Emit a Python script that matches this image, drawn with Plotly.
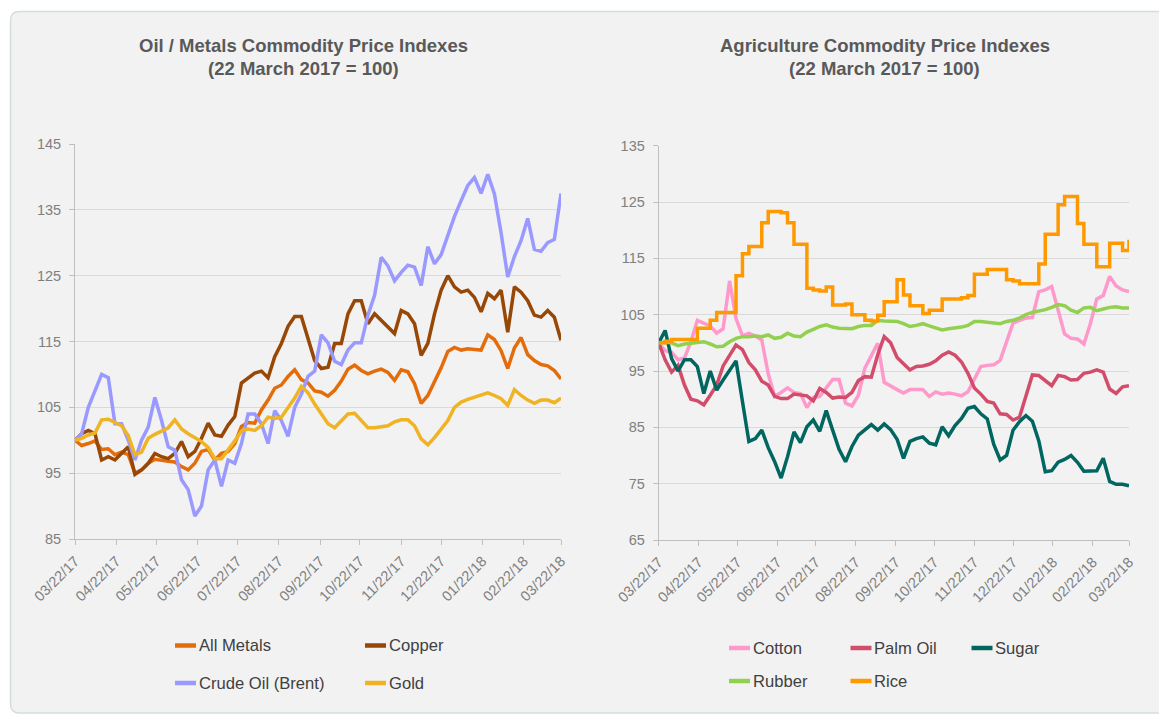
import pandas as pd
import plotly.graph_objects as go

W, H = 1159, 716

# Observation dates: every 5 days, 22 Mar 2017 .. 22 Mar 2018
dates = pd.date_range("2017-03-22", periods=74, freq="5D")
# Monthly ticks on the 22nd
month_ticks = pd.date_range("2017-03-01", "2018-03-01", freq="MS") + pd.Timedelta(days=21)

# ---- Oil / Metals indexes (22 March 2017 = 100) ----
all_metals = [100, 99.2, 99.5, 99.9, 98.6, 98.7, 97.8, 98.2, 97.8, 95.0,
              95.5, 96.5, 97.1, 96.9, 96.8, 96.7, 96.0, 95.5, 96.5, 98.3,
              98.6, 97.0, 98.0, 98.3, 99.5, 102.1, 102.7, 102.6, 104.6, 106.1,
              107.9, 108.4, 109.7, 110.7, 109.2, 108.7, 107.5, 107.3, 106.7, 107.6,
              109.0, 110.8, 111.4, 110.6, 110.1, 110.5, 110.8, 110.3, 109.1, 110.7,
              110.4, 108.6, 105.6, 106.8, 108.8, 111.0, 113.5, 114.1, 113.7, 113.9,
              113.8, 113.7, 116.0, 115.3, 113.6, 110.9, 114.0, 115.6, 113.0, 112.1,
              111.5, 111.3, 110.6, 109.3]
copper = [100, 101.0, 101.5, 101.0, 97.0, 97.5, 97.0, 98.0, 99.0, 94.8,
          95.5, 96.5, 98.0, 97.5, 97.2, 98.0, 99.8, 97.5, 98.3, 100.3,
          102.6, 100.8, 100.6, 102.3, 103.6, 108.7, 109.5, 110.2, 110.5, 109.5,
          112.7, 114.7, 117.3, 118.8, 118.8, 115.3, 112.1, 110.9, 111.1, 114.7,
          114.7, 119.2, 121.2, 121.2, 117.7, 119.2, 118.2, 117.2, 116.2, 119.7,
          119.2, 117.7, 112.9, 114.7, 119.2, 122.8, 125.0, 123.3, 122.5, 122.8,
          121.7, 119.5, 122.3, 121.5, 122.8, 116.4, 123.3, 122.5, 121.2, 119.0,
          118.7, 119.7, 118.7, 115.2]
crude_oil = [100, 101.0, 105.0, 107.5, 110.0, 109.5, 102.5, 102.5, 100.0, 97.0,
             100.0, 102.0, 106.5, 103.0, 99.0, 98.5, 94.0, 92.5, 88.5, 90.0,
             95.5, 97.0, 93.0, 97.0, 96.5, 99.5, 104.0, 104.0, 102.5, 99.5,
             104.5, 103.0, 100.6, 105.0, 107.0, 109.7, 110.5, 116.0, 114.8, 112.0,
             111.5, 113.7, 114.8, 114.8, 119.0, 122.0, 127.8, 126.5, 124.2, 125.5,
             126.6, 126.3, 123.5, 129.4, 126.8, 128.2, 131.2, 134.0, 136.4, 138.7,
             139.9, 137.5, 140.4, 137.4, 131.5, 124.8, 127.9, 130.3, 133.7, 129.0,
             128.7, 130.0, 130.5, 137.5]
gold = [100, 100.3, 100.8, 101.1, 103.1, 103.2, 102.7, 102.2, 100.7, 97.8,
        98.2, 100.3, 100.9, 101.4, 101.9, 103.1, 101.7, 101.0, 100.4, 99.8,
        98.9, 97.2, 97.2, 98.5, 99.9, 101.4, 101.7, 101.5, 102.2, 103.5,
        103.3, 103.5, 104.9, 106.4, 108.2, 107.2, 105.5, 104.0, 102.5, 101.9,
        102.9, 104.0, 104.1, 103.0, 101.9, 101.9, 102.1, 102.2, 102.8, 103.1,
        103.1, 102.2, 100.2, 99.3, 100.4, 101.7, 103.0, 105.0, 105.8, 106.2,
        106.5, 106.9, 107.2, 106.8, 106.3, 105.3, 107.7, 106.8, 106.1, 105.6,
        106.1, 106.1, 105.7, 106.4]

# ---- Agriculture indexes (22 March 2017 = 100) ----
cotton = [100, 98.6, 98.3, 97.0, 97.3, 100.2, 104.0, 103.5, 103.0, 101.7,
          102.5, 111.0, 104.3, 101.3, 101.7, 101.2, 100.5, 94.5, 90.5, 91.2,
          92.0, 91.2, 91.0, 88.5, 90.3, 90.5, 92.1, 93.5, 93.5, 89.3,
          88.8, 90.7, 95.5, 97.8, 99.9, 93.0, 92.3, 91.7, 91.1, 91.7,
          91.7, 91.7, 90.5, 91.3, 90.9, 91.1, 90.9, 90.6, 91.3, 93.7,
          95.8, 96.0, 96.1, 96.9, 100.0, 103.5, 104.0, 104.4, 104.5, 109.1,
          109.4, 110.0, 105.8, 101.6, 100.8, 100.7, 99.8, 103.4, 107.8, 108.4,
          111.8, 110.1, 109.4, 109.1]
palm_oil = [100, 97.0, 94.8, 96.0, 92.5, 90.0, 89.7, 89.0, 90.7, 92.5,
            95.9, 97.9, 99.6, 98.8, 96.5, 95.2, 93.2, 92.5, 90.5, 90.1,
            90.1, 90.9, 90.7, 90.6, 89.7, 91.9, 91.2, 90.2, 90.4, 90.3,
            91.2, 93.3, 94.0, 93.9, 97.9, 101.1, 100.0, 97.4, 96.3, 95.2,
            95.8, 95.9, 96.2, 96.8, 97.8, 98.4, 97.8, 96.6, 94.6, 92.0,
            90.9, 89.6, 89.3, 87.4, 87.3, 86.3, 86.8, 90.4, 94.3, 94.2,
            93.3, 92.4, 94.2, 94.0, 93.4, 93.5, 94.6, 94.8, 95.2, 94.8,
            91.8, 91.0, 92.2, 92.4]
sugar = [100, 102.2, 97.2, 95.0, 97.0, 97.0, 95.8, 91.0, 95.0, 91.6,
         93.4, 95.2, 96.8, 89.6, 82.5, 83.0, 84.5, 81.4, 78.9, 76.0,
         79.8, 84.2, 82.3, 85.1, 86.3, 84.3, 88.0, 84.5, 81.1, 78.9,
         81.6, 83.6, 84.5, 85.5, 84.5, 85.6, 84.6, 82.9, 79.5, 82.5,
         83.0, 83.3, 82.2, 81.9, 85.1, 83.5, 85.3, 86.6, 88.4, 88.7,
         87.4, 86.5, 82.0, 79.2, 80.0, 84.5, 86.0, 87.1, 86.1, 82.6,
         77.1, 77.3, 78.8, 79.3, 80.0, 78.8, 77.2, 77.2, 77.3, 79.5,
         75.4, 74.9, 74.9, 74.6]
rubber = [100, 100.1, 100.0, 99.5, 99.8, 99.9, 100.1, 100.2, 99.8, 99.3,
          99.4, 100.2, 100.8, 101.1, 101.1, 101.2, 101.1, 101.4, 100.8, 101.0,
          101.7, 101.2, 101.1, 101.9, 102.4, 102.9, 103.2, 102.8, 102.6, 102.5,
          102.5, 102.9, 103.1, 103.1, 104.0, 103.9, 103.8, 103.8, 103.4, 102.9,
          103.1, 103.4, 103.0, 102.6, 102.3, 102.5, 102.6, 102.8, 103.1, 103.8,
          103.8, 103.7, 103.5, 103.4, 103.8, 104.0, 104.4, 105.0, 105.4, 105.6,
          105.9, 106.3, 106.8, 106.6, 105.8, 105.4, 106.2, 106.3, 105.7, 106.0,
          106.3, 106.4, 106.2, 106.2]
rice = [100, 100.3, 100.6, 100.6, 100.6, 100.6, 102.6, 102.6, 104.0, 105.4,
        105.4, 105.4, 111.9, 115.8, 117.1, 117.1, 121.3, 123.3, 123.3, 123.1,
        121.3, 117.5, 117.5, 109.7, 109.4, 109.2, 109.9, 106.7, 106.7, 106.9,
        105.0, 105.0, 104.0, 103.9, 104.9, 107.3, 107.3, 111.2, 108.5, 106.6,
        106.6, 105.2, 105.8, 105.8, 107.8, 107.8, 107.8, 108.0, 108.4, 112.2,
        112.2, 113.0, 113.0, 113.0, 111.2, 111.0, 110.5, 110.5, 110.5, 114.0,
        119.3, 119.3, 124.5, 126.0, 126.0, 121.2, 117.5, 117.5, 113.5, 113.5,
        117.7, 117.7, 116.4, 118.3]

left_series = [
    ("All Metals", all_metals, "#E46C0A"),
    ("Copper", copper, "#974706"),
    ("Crude Oil (Brent)", crude_oil, "#9999FF"),
    ("Gold", gold, "#F0B323"),
]
right_series = [
    ("Cotton", cotton, "#FF99CC"),
    ("Palm Oil", palm_oil, "#D24D6C"),
    ("Sugar", sugar, "#00665F"),
    ("Rubber", rubber, "#92D050"),
    ("Rice", rice, "#FF9900"),
]

FONT = "Liberation Sans, Arial, sans-serif"
GRID = "#d9d9d9"
AXIS = "#bfbfbf"
TICKTXT = "#7f7f7f"


def px_x(v):
    return v / W


def px_y(v):
    return 1 - v / H


fig = go.Figure()

for name, vals, col in left_series:
    fig.add_trace(go.Scatter(x=dates, y=vals, name=name, mode="lines",
                             line=dict(color=col, width=3.5),
                             xaxis="x", yaxis="y", showlegend=False))
for name, vals, col in right_series:
    fig.add_trace(go.Scatter(x=dates, y=vals, name=name, mode="lines",
                             line=dict(color=col, width=3.5,
                                       shape="hv" if name == "Rice" else "linear"),
                             xaxis="x2", yaxis="y2", showlegend=False))

xcommon = dict(type="date", range=[dates[0], dates[-1]], tickvals=month_ticks,
               tickformat="%m/%d/%y", tickangle=-45, ticks="outside", ticklen=5,
               tickcolor=AXIS, showline=True, linecolor=AXIS, linewidth=1,
               showgrid=False, zeroline=False, automargin=False,
               ticklabelstandoff=2,
               tickfont=dict(family=FONT, size=14.5, color=TICKTXT))
ycommon = dict(dtick=10, ticks="outside", ticklen=5, tickcolor=AXIS,
               showline=True, linecolor=AXIS, linewidth=1, gridcolor=GRID,
               gridwidth=1, zeroline=False, ticklabelstandoff=5, automargin=False,
               tickfont=dict(family=FONT, size=14.5, color=TICKTXT))

fig.update_layout(
    width=W, height=H,
    margin=dict(l=0, r=0, t=0, b=0, autoexpand=False),
    paper_bgcolor="#ffffff",
    plot_bgcolor="#f8f8f8",
    font=dict(family=FONT),
    xaxis=dict(domain=[px_x(75), px_x(561)], anchor="y", **xcommon),
    yaxis=dict(domain=[px_y(539), px_y(144)], anchor="x", range=[85, 145],
               tick0=85, **ycommon),
    xaxis2=dict(domain=[px_x(658.7), px_x(1129)], anchor="y2", **xcommon),
    yaxis2=dict(domain=[px_y(540), px_y(145.7)], anchor="x2", range=[65, 135],
                tick0=65, **ycommon),
)


# Rounded card behind both panels
def card_path(x0, y0, x1, y1, r):
    pts = [
        f"M{px_x(x0 + r)},{px_y(y0)}",
        f"L{px_x(x1 - r)},{px_y(y0)}",
        f"Q{px_x(x1)},{px_y(y0)} {px_x(x1)},{px_y(y0 + r)}",
        f"L{px_x(x1)},{px_y(y1 - r)}",
        f"Q{px_x(x1)},{px_y(y1)} {px_x(x1 - r)},{px_y(y1)}",
        f"L{px_x(x0 + r)},{px_y(y1)}",
        f"Q{px_x(x0)},{px_y(y1)} {px_x(x0)},{px_y(y1 - r)}",
        f"L{px_x(x0)},{px_y(y0 + r)}",
        f"Q{px_x(x0)},{px_y(y0)} {px_x(x0 + r)},{px_y(y0)}",
        "Z",
    ]
    return " ".join(pts)


shapes = [dict(type="path", xref="paper", yref="paper",
               path=card_path(10.5, 11.5, 1178, 713, 9),
               fillcolor="#f2f2f2", line=dict(color="#d3dde0", width=1.5),
               layer="below")]
annotations = []

# Panel titles
for cx, line1 in [(303, "Oil / Metals Commodity Price Indexes"),
                  (884.5, "Agriculture Commodity Price Indexes")]:
    for cy, txt in [(45, line1), (69, "(22 March 2017 = 100)")]:
        annotations.append(dict(x=px_x(cx), y=px_y(cy), xref="paper", yref="paper",
                                text=f"<b>{txt}</b>", showarrow=False,
                                xanchor="center", yanchor="middle",
                                font=dict(family=FONT, size=18.5, color="#595959")))

# Legends: (name, colour, line start x, row y)
legend_items = [
    ("All Metals", "#E46C0A", 174, 645.5),
    ("Copper", "#974706", 364, 645.5),
    ("Crude Oil (Brent)", "#9999FF", 174, 683),
    ("Gold", "#F0B323", 364, 683),
    ("Cotton", "#FF99CC", 728, 648),
    ("Palm Oil", "#D24D6C", 849.5, 648),
    ("Sugar", "#00665F", 970.5, 648),
    ("Rubber", "#92D050", 728, 681),
    ("Rice", "#FF9900", 849.5, 681),
]
for name, col, lx, ly in legend_items:
    shapes.append(dict(type="line", xref="paper", yref="paper",
                       x0=px_x(lx + 1), x1=px_x(lx + 22), y0=px_y(ly), y1=px_y(ly),
                       line=dict(color=col, width=4.5)))
    annotations.append(dict(x=px_x(lx + 22.5), y=px_y(ly), xref="paper", yref="paper",
                            text=name, showarrow=False, xanchor="left",
                            yanchor="middle",
                            font=dict(family=FONT, size=16.6, color="#404040")))

fig.update_layout(shapes=shapes, annotations=annotations)

fig.write_html("out.html")
